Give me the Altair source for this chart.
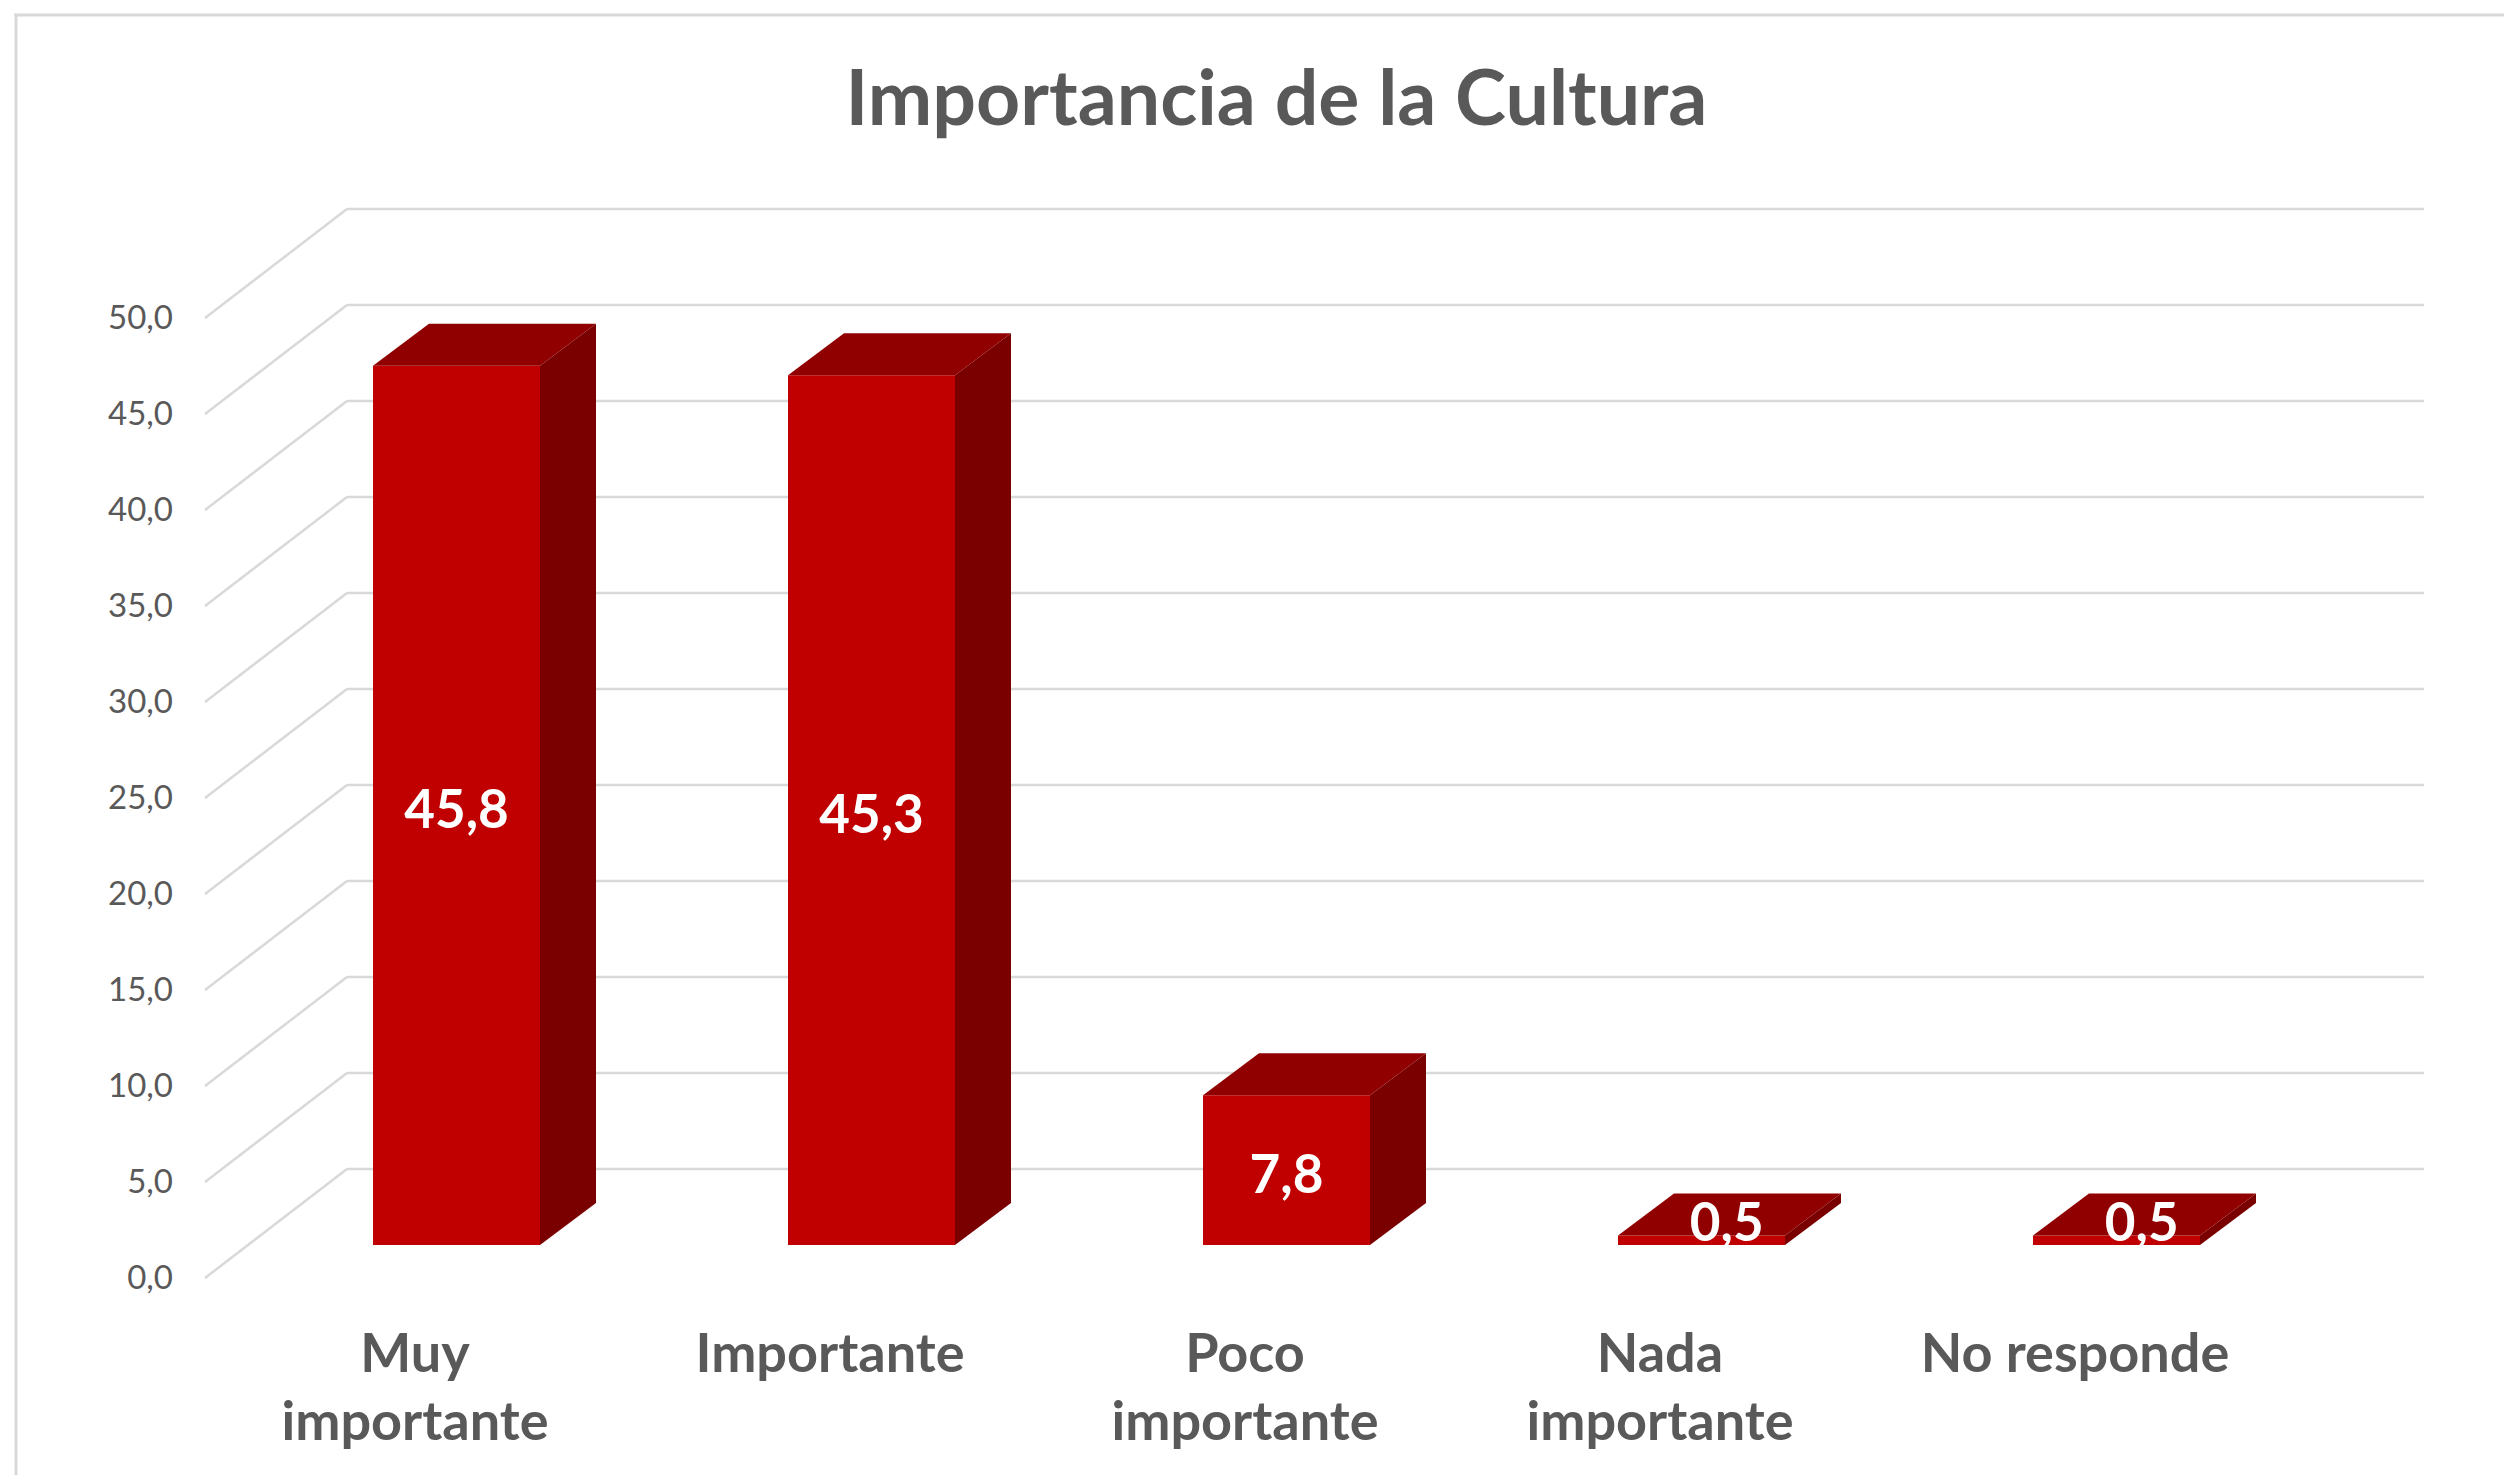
import altair as alt
import pandas as pd

# ---------------- data ----------------
categories = ["Muy importante", "Importante", "Poco importante", "Nada importante", "No responde"]
category_labels = ["Muy\nimportante", "Importante", "Poco\nimportante", "Nada\nimportante", "No responde"]
values = [45.8, 45.3, 7.8, 0.5, 0.5]
value_labels = ["45,8", "45,3", "7,8", "0,5", "0,5"]
tick_values = [0, 5, 10, 15, 20, 25, 30, 35, 40, 45, 50]
tick_labels = ["0,0", "5,0", "10,0", "15,0", "20,0", "25,0", "30,0", "35,0", "40,0", "45,0", "50,0"]
title_text = "Importancia de la Cultura"

# ---------------- geometry (layout / styling) ----------------
W, H = 2488, 1460
PX_PER_CAT = 415.0      # pixels per category step
PX_PER_UNIT = 19.2      # pixels per value unit
X0_PAGE, Y0_PAGE = 456.5, 1245.0   # first bar centre / bar baseline (page px)
VIEW_X, VIEW_Y = 16, 15
x_dom = [(VIEW_X - X0_PAGE) / PX_PER_CAT, (VIEW_X + W - X0_PAGE) / PX_PER_CAT]
y_dom = [(Y0_PAGE - (VIEW_Y + H)) / PX_PER_UNIT, (Y0_PAGE - VIEW_Y) / PX_PER_UNIT]
xs = alt.Scale(domain=x_dom, nice=False, zero=False)
ys = alt.Scale(domain=y_dom, nice=False, zero=False)

HALF_W = 83.5 / PX_PER_CAT        # half width of bar front
DX = 56 / PX_PER_CAT              # bar depth (x)
DY = 42 / PX_PER_UNIT             # bar depth (y)
WALL_L, WALL_R = (347 - X0_PAGE) / PX_PER_CAT, (2424 - X0_PAGE) / PX_PER_CAT
WALL_DY = (Y0_PAGE - 1169) / PX_PER_UNIT
FRONT_X = (205 - X0_PAGE) / PX_PER_CAT
FRONT_DY = (Y0_PAGE - 1278) / PX_PER_UNIT
LABEL_X = (173 - X0_PAGE) / PX_PER_CAT
CAT_SHIFT = -0.1
CAT_Y = (Y0_PAGE - 1372) / PX_PER_UNIT

GRID = "#d9d9d9"
TEXT = "#595959"
FRONT = "#c00000"
TOP = "#900000"
SIDE = "#7a0000"
FONT = "Lato"

ticks = pd.DataFrame({"t": tick_values, "lab": tick_labels})
bars = pd.DataFrame({"cat": categories, "u": list(range(len(values))), "v": values,
                     "lab": value_labels, "catlab": category_labels})

side_rows, top_rows = [], []
for i, v in enumerate(values):
    side_rows.append({"cat": categories[i], "x": i + HALF_W, "y": 0.0, "y2": v})
    side_rows.append({"cat": categories[i], "x": i + HALF_W + DX, "y": DY, "y2": v + DY})
    top_rows.append({"cat": categories[i], "y": v, "x": i - HALF_W, "x2": i + HALF_W})
    top_rows.append({"cat": categories[i], "y": v + DY, "x": i - HALF_W + DX, "x2": i + HALF_W + DX})
side = pd.DataFrame(side_rows)
top = pd.DataFrame(top_rows)

# ---------------- layers ----------------
frame_df = pd.DataFrame({"k": ["left", "top"]})
frame_left = alt.Chart(frame_df.iloc[:1]).mark_rule(color=GRID, strokeWidth=3).encode(
    x=alt.value(0), y=alt.value(-1.5), y2=alt.value(H)
)
frame_top = alt.Chart(frame_df.iloc[1:]).mark_rule(color=GRID, strokeWidth=3).encode(
    x=alt.value(-1.5), x2=alt.value(W), y=alt.value(0)
)

grid_h = alt.Chart(ticks).transform_calculate(
    xa=f"{WALL_L}", xb=f"{WALL_R}", yb=f"datum.t + {WALL_DY}"
).mark_rule(color=GRID, strokeWidth=2.5).encode(
    x=alt.X("xa:Q", scale=xs, axis=None), x2="xb:Q",
    y=alt.Y("yb:Q", scale=ys, axis=None)
)

grid_d = alt.Chart(ticks).transform_calculate(
    xa=f"{FRONT_X}", xb=f"{WALL_L}", ya=f"datum.t + {FRONT_DY}", yb=f"datum.t + {WALL_DY}"
).mark_rule(color=GRID, strokeWidth=2.5).encode(
    x=alt.X("xa:Q", scale=xs, axis=None), x2="xb:Q",
    y=alt.Y("ya:Q", scale=ys, axis=None), y2="yb:Q"
)

ylabels = alt.Chart(ticks).transform_calculate(
    xl=f"{LABEL_X}", yl=f"datum.t + {FRONT_DY}"
).mark_text(align="right", baseline="middle", font=FONT, fontSize=33, color=TEXT, dy=1).encode(
    x=alt.X("xl:Q", scale=xs, axis=None),
    y=alt.Y("yl:Q", scale=ys, axis=None),
    text="lab:N"
)

front = alt.Chart(bars).transform_calculate(
    xa=f"datum.u - {HALF_W}", xb=f"datum.u + {HALF_W}", y0="0"
).mark_rect(color=FRONT).encode(
    x=alt.X("xa:Q", scale=xs, axis=None), x2="xb:Q",
    y=alt.Y("y0:Q", scale=ys, axis=None), y2="v:Q"
)

side_face = alt.Chart(side).mark_area(color=SIDE, orient="vertical", interpolate="linear").encode(
    x=alt.X("x:Q", scale=xs, axis=None),
    y=alt.Y("y:Q", scale=ys, axis=None), y2="y2:Q",
    detail="cat:N"
)

top_face = alt.Chart(top).mark_area(color=TOP, orient="horizontal", interpolate="linear").encode(
    y=alt.Y("y:Q", scale=ys, axis=None),
    x=alt.X("x:Q", scale=xs, axis=None), x2="x2:Q",
    detail="cat:N"
)

vlabels = alt.Chart(bars).transform_calculate(
    xl=f"datum.v < 2 ? datum.u + {DX * 0.45} : datum.u",
    yl=f"datum.v < 2 ? datum.v + {DY * 0.42} : datum.v / 2"
).mark_text(align="center", baseline="middle", font=FONT, fontWeight="bold",
            fontSize=53, color="white", dy=7).encode(
    x=alt.X("xl:Q", scale=xs, axis=None),
    y=alt.Y("yl:Q", scale=ys, axis=None),
    text="lab:N"
)

catlabels = alt.Chart(bars).transform_calculate(
    xl=f"datum.u + {CAT_SHIFT}", yl=f"{CAT_Y}"
).mark_text(align="center", baseline="alphabetic", font=FONT, fontWeight="bold",
            fontSize=54, color=TEXT, lineBreak="\n", lineHeight=68).encode(
    x=alt.X("xl:Q", scale=xs, axis=None),
    y=alt.Y("yl:Q", scale=ys, axis=None),
    text="catlab:N"
)

title = alt.Chart(pd.DataFrame({"t": [title_text]})).mark_text(
    align="center", baseline="alphabetic", font=FONT, fontWeight="bold",
    fontSize=77, color=TEXT
).encode(x=alt.value(1260.5), y=alt.value(110), text="t:N")

chart = alt.layer(
    frame_left, frame_top, grid_h, grid_d, ylabels, front, side_face, top_face,
    vlabels, catlabels, title
).properties(
    width=W, height=H,
    autosize=alt.AutoSizeParams(type="none"),
    padding={"left": 8, "top": 7, "right": 0, "bottom": 0},
    background="white"
).configure_view(stroke=None)

chart.save("out.html", embed_options={"renderer": "svg", "actions": False})
